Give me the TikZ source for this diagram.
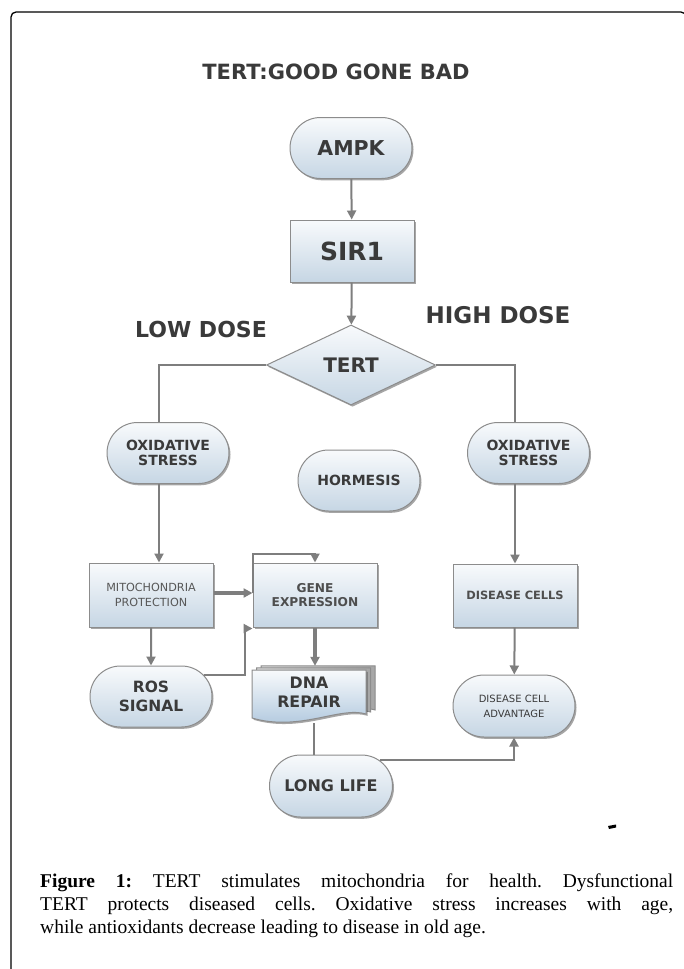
\documentclass[tikz,border=0pt]{standalone}
\usepackage{fontspec}
\setmainfont{Liberation Serif}
\newfontfamily\flowfont{DejaVu Sans}
\usetikzlibrary{arrows.meta}
\usetikzlibrary{shapes.geometric,shapes.misc,shadows}
\definecolor{boxtop}{HTML}{F8FAFC}
\definecolor{boxbot}{HTML}{C6D6E4}
\definecolor{boxline}{HTML}{8C8C8C}
\definecolor{inkgrey}{HTML}{3A3A3A}
\definecolor{linkgrey}{HTML}{7E7E7E}
\definecolor{pageblue}{HTML}{A9C3DB}
\newcommand{\fsz}[2]{\fontsize{#1}{#2}\selectfont}

\begin{document}
\begin{tikzpicture}[x=1pt,y=-1pt,
    shade box/.style={top color=boxtop, bottom color=boxbot, draw=boxline, line width=1pt,
        drop shadow={shadow xshift=1.5pt, shadow yshift=-1.8pt, fill=black, opacity=.35},
        text=inkgrey, align=center, inner sep=0pt},
    term/.style={shade box, rounded rectangle, minimum width=122pt, minimum height=61pt},
    proc/.style={shade box, rectangle, minimum width=124pt, minimum height=63pt},
    head/.style={text=inkgrey, font=\flowfont\bfseries\fsz{22}{26}},
    link/.style={draw=linkgrey, line width=2pt, -{Triangle[length=9pt,width=9pt]}},
    plain link/.style={draw=linkgrey, line width=2pt},
    heavy link/.style={link, line width=3.5pt}]
    \useasboundingbox (0,0) rectangle (683,969);
    \fill[white] (0,0) rectangle (683,969);
    \draw[line width=1.3pt, rounded corners=5pt] (11,1000) -- (11,12) -- (686,12) -- (686,1000);

    \node[head, font=\flowfont\bfseries\fsz{21}{25}] (title) at (336,72) {TERT:GOOD GONE BAD};
    \node[head] (low) at (201,329) {LOW DOSE};
    \node[head, font=\flowfont\bfseries\fsz{23}{27}] (high) at (498,315) {HIGH DOSE};

    \node[term, font=\flowfont\bfseries\fsz{20.5}{24}] (ampk) at (351,148) {AMPK};
    \node[proc, minimum height=62pt, font=\flowfont\bfseries\fsz{25}{29}] (sir) at (352,251) {SIR1};
    \node[shade box, diamond, aspect=2.1, minimum width=169pt, minimum height=80pt,
        font=\flowfont\bfseries\fsz{20}{24}] (tert) at (351,365) {TERT};

    \node[term, font=\flowfont\bfseries\fsz{14}{15.5}] (oxlow) at (168,453) {OXIDATIVE\\STRESS};
    \node[term, font=\flowfont\bfseries\fsz{14}{15.5}] (oxhigh) at (528.5,453) {OXIDATIVE\\STRESS};
    \node[term, font=\flowfont\bfseries\fsz{14}{16}] (horm) at (359,480.5) {HORMESIS};

    \node[proc, minimum height=64pt, font=\flowfont\fsz{11.2}{15}, text=inkgrey!85] (mito) at (151,595) {MITOCHONDRIA\\PROTECTION};
    \node[proc, minimum height=64pt, font=\flowfont\bfseries\fsz{12.2}{14.5}, text=inkgrey!90] (gene) at (315,595) {GENE\\EXPRESSION};
    \node[proc, font=\flowfont\bfseries\fsz{11.4}{14}, text=inkgrey!90] (dis) at (515,595.5) {DISEASE CELLS};

    \node[term, font=\flowfont\bfseries\fsz{15.5}{19}] (ros) at (151,696.5) {ROS\\SIGNAL};
    \node[term, minimum height=62pt, font=\flowfont\fsz{10}{15}] (adv) at (514,706) {DISEASE CELL\\ADVANTAGE};
    \node[term, minimum width=123pt, minimum height=62pt, font=\flowfont\bfseries\fsz{16}{19}] (long) at (331,786) {LONG LIFE};

    \foreach \d in {9,4.5}
        \draw[boxline, line width=1pt, left color=gray!25, right color=gray!70, shift={(\d,-\d/2.2)}]
            (252,670) -- (366,670) -- (366,714) .. controls (340,706) and (300,732) .. (252,718) -- cycle;
    \draw[boxline, line width=1pt, top color=boxtop, bottom color=pageblue,
        drop shadow={shadow xshift=1.5pt, shadow yshift=-1.8pt, fill=black, opacity=.35}]
        (252,670) -- (366,670) -- (366,714) .. controls (340,706) and (300,732) .. (252,718) -- cycle;
    \node[minimum width=114pt, minimum height=52pt, inner sep=0pt, align=center, text=inkgrey,
        font=\flowfont\bfseries\fsz{15.8}{19}] (dna) at (309,692) {DNA\\REPAIR};

    \fill[black] (608,826) -- (616,824.5) -- (616,827.5) -- (609,829) -- cycle;

    \draw[link] (ampk) -- (sir);
    \draw[link] (sir) -- (tert);
    \draw[plain link] (tert.west) -| ([xshift=-9pt]oxlow.north);
    \draw[plain link] (tert.east) -| ([xshift=-13.5pt]oxhigh.north);
    \draw[link] ([xshift=-9pt]oxlow.south) -- ([xshift=-9pt]oxlow.south |- mito.north);
    \draw[link] (oxhigh.south -| dis.north) -- (dis.north);
    \draw[heavy link] ([yshift=2pt]mito.east) -- ([yshift=2pt]gene.west);
    \draw[link] ([yshift=2pt]gene.west) |- ([yshift=9pt]gene.north) -- (gene.north);
    \draw[link] (mito) -- (ros);
    \draw[link] (ros.22) -| ([xshift=-8pt,yshift=-1pt]gene.south west) -- ([yshift=-1pt]gene.south west);
    \draw[heavy link] (gene.south) -- (gene.south |- dna.north);
    \draw[plain link] ([xshift=5pt,yshift=-5pt]dna.south) -- ([xshift=5pt]dna.south |- long.north);
    \draw[link] (long.28) -| (adv.south);
    \draw[link] (dis) -- (adv);

    \node[anchor=north west, text width=633pt, inner sep=0pt, align=justify, font=\fsz{19.5}{23}\frenchspacing] (cap) at (40,874)
        {\textbf{Figure 1:} TERT stimulates mitochondria for health. Dysfunctional\linebreak
         TERT protects diseased cells. Oxidative stress increases with age,\linebreak
         while antioxidants decrease leading to disease in old age.};
\end{tikzpicture}
\end{document}
